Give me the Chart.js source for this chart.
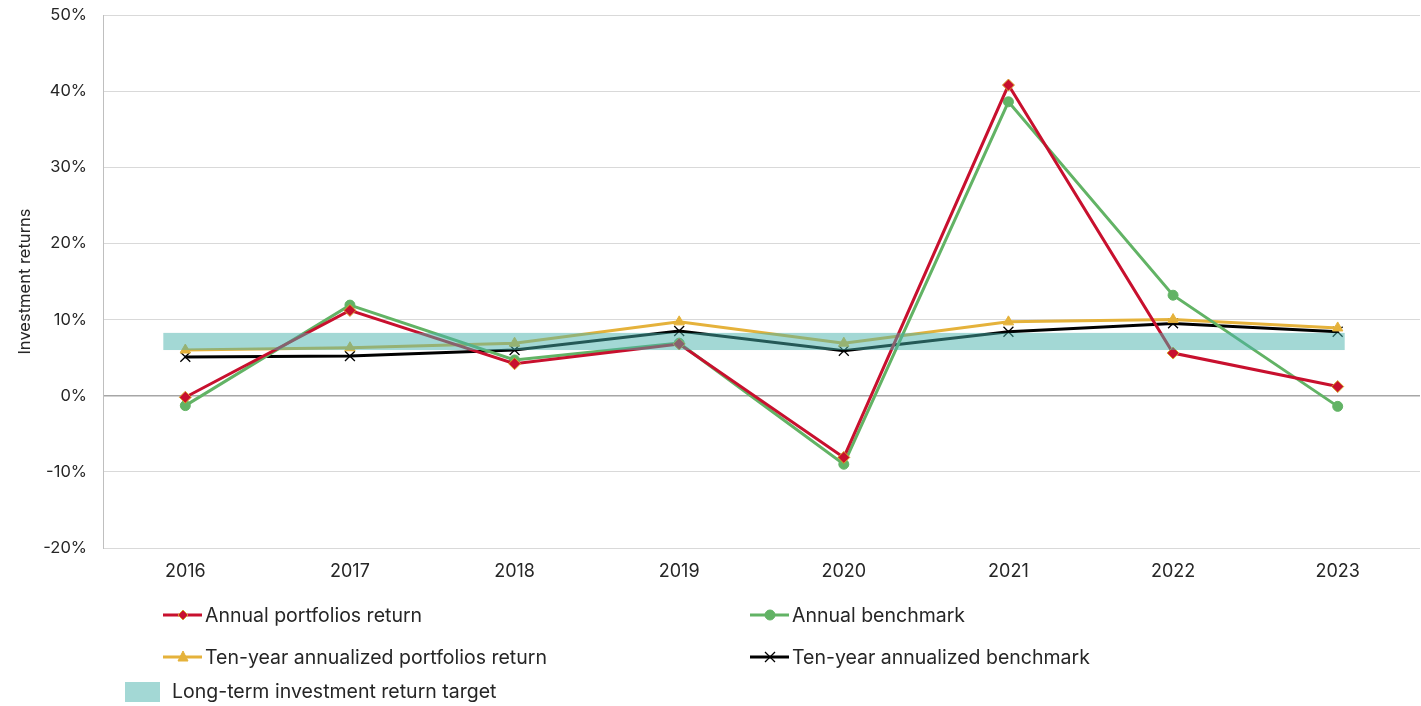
<!DOCTYPE html>
<html lang="en">
<head>
  <meta charset="UTF-8">
  <title>Investment returns</title>
  <style>
    html, body {
      margin: 0;
      padding: 0;
      background: #ffffff;
      overflow: hidden;
    }
    .chart-container {
      width: 1421px;
      height: 706px;
      position: relative;
    }
    canvas { display: block; }
  </style>
</head>
<body>
  <div class="chart-container">
    <canvas id="returnsChart"></canvas>
  </div>

  <script src="https://cdn.jsdelivr.net/npm/chart.js"></script>
  <script>
    const years = ['2016', '2017', '2018', '2019', '2020', '2021', '2022', '2023'];
    const annualPortfolio = [-0.2, 11.2, 4.2, 6.8, -8.1, 40.8, 5.6, 1.2];
    const annualBenchmark = [-1.3, 11.9, 4.7, 6.9, -9.0, 38.6, 13.2, -1.4];
    const tenYearPortfolio = [6.0, 6.3, 6.9, 9.7, 6.9, 9.7, 10.0, 8.9];
    const tenYearBenchmark = [5.1, 5.2, 6.0, 8.5, 5.9, 8.4, 9.5, 8.4];
    const targetRange = [6.0, 8.25];
    const yTicks = [-20, -10, 0, 10, 20, 30, 40, 50];

    const FONT = 'Inter, "Noto Sans", Arial, sans-serif';
    const TEXT = '#262626';

    const RED = '#c8102e';
    const GREEN = '#62b365';
    const GOLD = '#e5b23b';
    const BLACK = '#000000';
    const TEAL = 'rgba(71, 178, 172, 0.5)';

    // target band goes over the lines, like in the original
    const targetBand = {
      id: 'targetBand',
      afterDatasetsDraw(chart) {
        const { ctx, scales: { x, y } } = chart;
        const left = x.getPixelForValue(0) - 22;
        const right = x.getPixelForValue(years.length - 1) + 7;
        const top = y.getPixelForValue(targetRange[1]);
        const bottom = y.getPixelForValue(targetRange[0]);
        ctx.save();
        ctx.fillStyle = TEAL;
        ctx.fillRect(left, top, right - left, bottom - top);
        ctx.restore();
      }
    };

    function drawMarker(ctx, style, x, y, r) {
      ctx.beginPath();
      if (style === 'rectRot') {
        ctx.moveTo(x, y - r); ctx.lineTo(x + r, y); ctx.lineTo(x, y + r); ctx.lineTo(x - r, y);
        ctx.closePath(); ctx.fill(); ctx.stroke();
      } else if (style === 'circle') {
        ctx.arc(x, y, r, 0, Math.PI * 2); ctx.fill(); ctx.stroke();
      } else if (style === 'triangle') {
        ctx.moveTo(x, y - r - 1); ctx.lineTo(x + r, y + r - 1); ctx.lineTo(x - r, y + r - 1);
        ctx.closePath(); ctx.fill(); ctx.stroke();
      } else {
        ctx.moveTo(x - r, y - r); ctx.lineTo(x + r, y + r);
        ctx.moveTo(x + r, y - r); ctx.lineTo(x - r, y + r); ctx.stroke();
      }
    }

    // legend laid out in two columns plus the band row
    const bottomLegend = {
      id: 'bottomLegend',
      afterDraw(chart) {
        const ctx = chart.ctx;
        ctx.save();
        ctx.font = '19.5px ' + FONT;
        ctx.textBaseline = 'middle';
        chart.data.datasets.forEach((ds, i) => {
          const x = i % 2 === 0 ? 163 : 750;
          const y = i < 2 ? 615 : 657;
          ctx.strokeStyle = ds.borderColor;
          ctx.lineWidth = 3;
          ctx.beginPath();
          ctx.moveTo(x, y);
          ctx.lineTo(x + 39, y);
          ctx.stroke();
          ctx.fillStyle = ds.pointBackgroundColor;
          ctx.strokeStyle = ds.pointBorderColor;
          ctx.lineWidth = ds.pointBorderWidth;
          drawMarker(ctx, ds.pointStyle, x + 20, y, 5);
          ctx.fillStyle = TEXT;
          ctx.fillText(ds.label, x + 42, y + 1);
        });
        ctx.fillStyle = TEAL;
        ctx.fillRect(125, 682, 35, 20);
        ctx.fillStyle = TEXT;
        ctx.fillText('Long-term investment return target', 172, 692);
        ctx.restore();
      }
    };

    const ctx1 = document.getElementById('returnsChart').getContext('2d');

    new Chart(ctx1, {
      type: 'line',
      data: {
        labels: years,
        datasets: [
          {
            label: 'Annual portfolios return',
            data: annualPortfolio,
            borderColor: RED,
            borderWidth: 3,
            pointStyle: 'rectRot',
            pointRadius: 6,
            pointBackgroundColor: RED,
            pointBorderColor: '#d6a52a',
            pointBorderWidth: 1
          },
          {
            label: 'Annual benchmark',
            data: annualBenchmark,
            borderColor: GREEN,
            borderWidth: 3,
            pointStyle: 'circle',
            pointRadius: 5,
            pointBackgroundColor: GREEN,
            pointBorderColor: GREEN,
            pointBorderWidth: 1
          },
          {
            label: 'Ten-year annualized portfolios return',
            data: tenYearPortfolio,
            borderColor: GOLD,
            borderWidth: 3,
            pointStyle: 'triangle',
            pointRadius: 6,
            pointBackgroundColor: GOLD,
            pointBorderColor: GOLD,
            pointBorderWidth: 1
          },
          {
            label: 'Ten-year annualized benchmark',
            data: tenYearBenchmark,
            borderColor: BLACK,
            borderWidth: 3,
            pointStyle: 'crossRot',
            pointRadius: 7,
            pointBackgroundColor: BLACK,
            pointBorderColor: BLACK,
            pointBorderWidth: 1.3
          }
        ]
      },
      options: {
        responsive: true,
        maintainAspectRatio: false,
        animation: false,
        layout: { autoPadding: false, padding: { top: 15, right: 1, left: 0, bottom: 0 } },
        plugins: {
          legend: { display: false },
          tooltip: { enabled: false }
        },
        scales: {
          x: {
            offset: true,
            grid: { display: false, drawTicks: false },
            border: { display: false },
            ticks: {
              padding: 13,
              color: TEXT,
              font: { family: FONT, size: 18 }
            },
            afterFit(scale) {
              scale.height = 158;
              scale.paddingLeft = 0;
              scale.paddingRight = 0;
            }
          },
          y: {
            min: -20,
            max: 50,
            afterBuildTicks(scale) { scale.ticks = yTicks.map(v => ({ value: v })); },
            grid: {
              drawTicks: false,
              color: ctx => ctx.tick && ctx.tick.value === 0 ? '#a6a6a6' : '#d9d9d9',
              lineWidth: ctx => ctx.tick && ctx.tick.value === 0 ? 1.5 : 1
            },
            border: { display: true, color: '#bfbfbf', width: 1 },
            ticks: {
              padding: 16,
              color: TEXT,
              font: { family: FONT, size: 16.5 },
              callback: v => v + '%'
            },
            title: {
              display: true,
              text: 'Investment returns',
              color: TEXT,
              font: { family: FONT, size: 16.5 },
              padding: { top: 15, bottom: 0 }
            },
            afterFit(scale) {
              scale.width = 103;
              scale.paddingTop = 0;
              scale.paddingBottom = 0;
            }
          }
        }
      },
      plugins: [targetBand, bottomLegend]
    });
  </script>
</body>
</html>
